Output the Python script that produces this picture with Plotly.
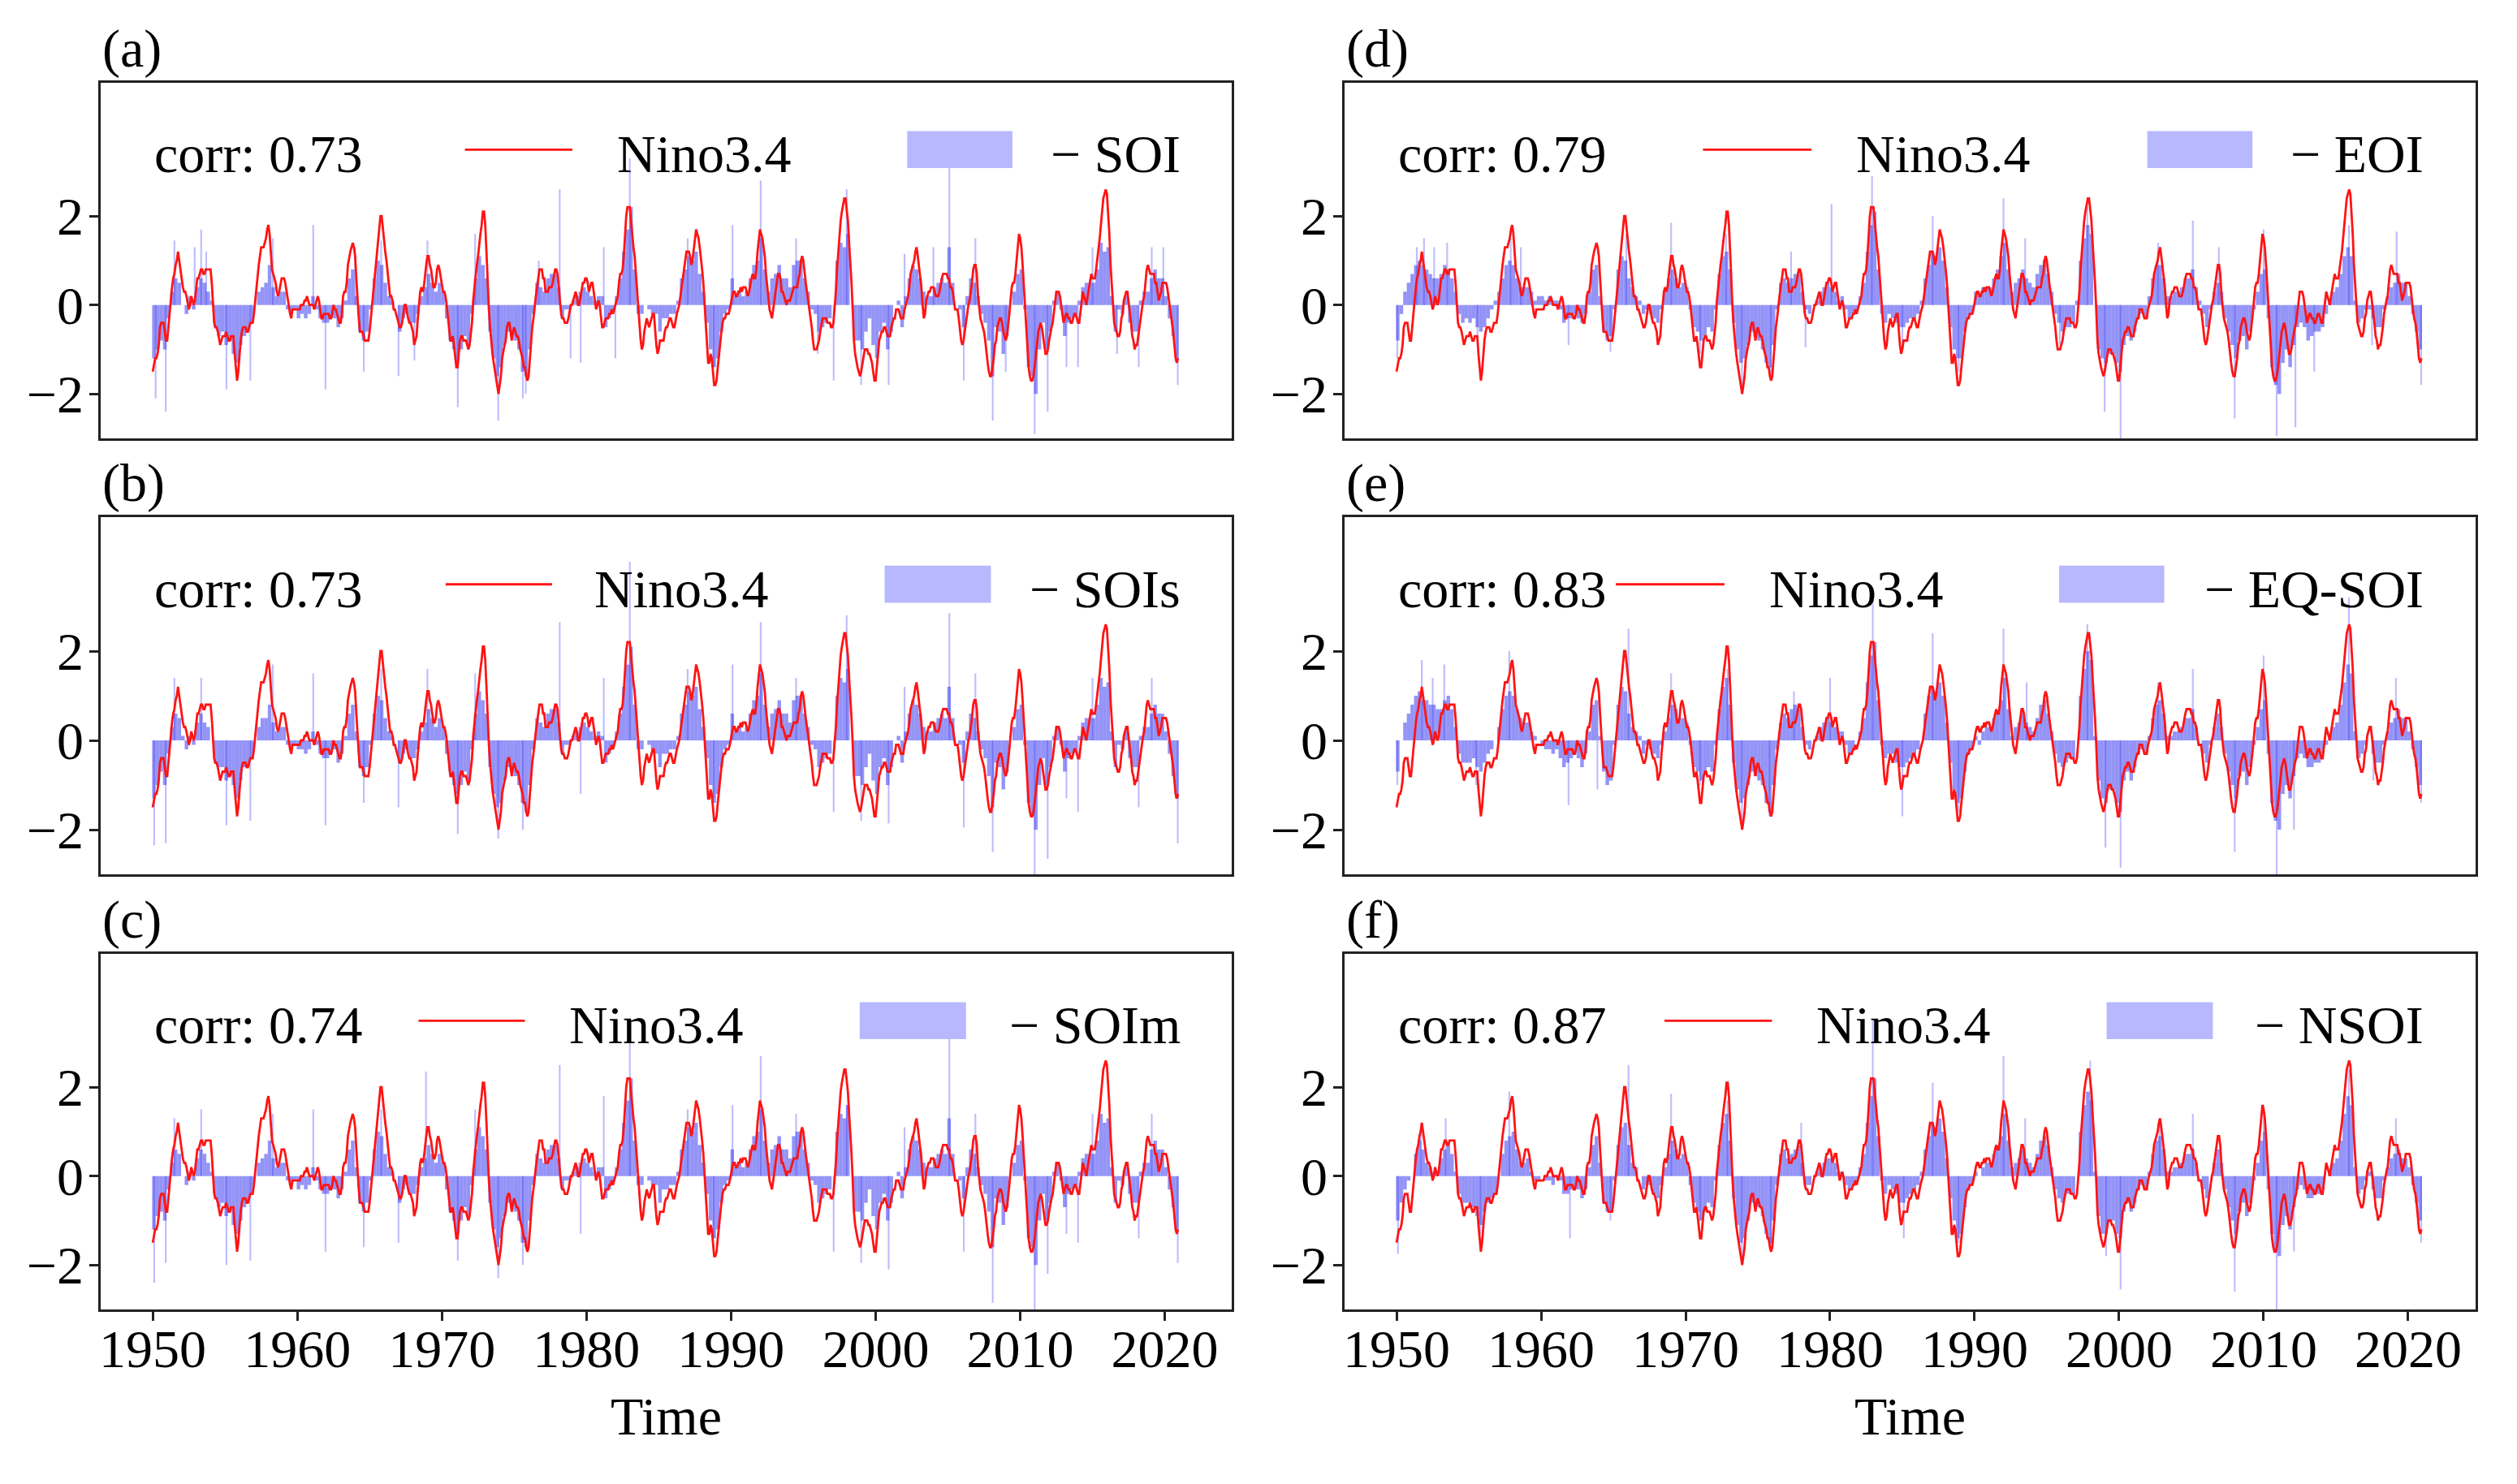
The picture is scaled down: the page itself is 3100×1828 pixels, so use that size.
import plotly.graph_objects as go

# ---------------- data ----------------
years = list(range(1950, 2021))
x_ticks = [1950, 1960, 1970, 1980, 1990, 2000, 2010, 2020]
y_ticks = [-2, 0, 2]
y_ticktext = ["\u22122", "0", "2"]

# Nino3.4 (monthly, 1950-2020)
nino34 = [
 -1.5,-1.3,-1.2,-1.2,-1.1,-0.9,-0.5,-0.4,-0.4,-0.4,-0.6,-0.8,
 -0.8,-0.5,-0.2,0.2,0.4,0.6,0.7,0.9,1.0,1.2,1.0,0.8,
 0.5,0.4,0.3,0.3,0.2,0.0,-0.1,0.0,0.2,0.1,0.0,0.1,
 0.4,0.6,0.6,0.7,0.8,0.8,0.7,0.7,0.8,0.8,0.8,0.8,
 0.8,0.5,0.0,-0.4,-0.5,-0.5,-0.6,-0.8,-0.9,-0.8,-0.7,-0.7,
 -0.7,-0.6,-0.7,-0.8,-0.8,-0.7,-0.7,-0.7,-1.1,-1.4,-1.7,-1.5,
 -1.1,-0.8,-0.6,-0.5,-0.5,-0.5,-0.6,-0.6,-0.5,-0.4,-0.4,-0.4,
 -0.2,0.1,0.4,0.7,0.9,1.1,1.3,1.3,1.3,1.4,1.5,1.7,
 1.8,1.6,1.2,0.8,0.7,0.6,0.5,0.3,0.2,0.3,0.5,0.6,
 0.6,0.6,0.5,0.3,0.2,-0.1,-0.2,-0.3,-0.1,-0.1,-0.1,-0.1,
 -0.1,-0.1,-0.1,0.0,0.0,0.0,0.1,0.1,0.2,0.1,0.0,0.0,
 0.0,0.0,-0.1,0.0,0.1,0.2,0.1,-0.1,-0.3,-0.3,-0.2,-0.2,
 -0.2,-0.2,-0.2,-0.3,-0.3,-0.2,0.0,-0.1,-0.1,-0.2,-0.3,-0.4,
 -0.4,-0.2,0.2,0.3,0.3,0.5,0.9,1.1,1.2,1.3,1.4,1.3,
 1.1,0.6,0.1,-0.3,-0.6,-0.6,-0.6,-0.7,-0.8,-0.8,-0.8,-0.8,
 -0.6,-0.3,-0.1,0.2,0.5,0.8,1.2,1.5,1.8,2.0,2.0,1.7,
 1.4,1.2,1.0,0.7,0.4,0.2,0.2,0.1,-0.1,-0.1,-0.2,-0.3,
 -0.4,-0.5,-0.5,-0.4,-0.2,0.0,0.0,-0.2,-0.3,-0.4,-0.4,-0.5,
 -0.6,-0.9,-0.8,-0.7,-0.3,0.0,0.3,0.4,0.3,0.4,0.7,0.9,
 1.1,1.1,0.9,0.8,0.6,0.4,0.4,0.5,0.8,0.9,0.8,0.6,
 0.5,0.3,0.3,0.2,0.0,-0.3,-0.6,-0.8,-0.8,-0.7,-0.9,-1.1,
 -1.4,-1.4,-1.1,-0.8,-0.7,-0.7,-0.8,-0.8,-0.8,-0.9,-1.0,-0.9,
 -0.7,-0.4,0.1,0.4,0.7,0.9,1.1,1.4,1.6,1.8,2.1,2.1,
 1.8,1.2,0.5,-0.1,-0.5,-0.9,-1.1,-1.3,-1.5,-1.7,-1.9,-2.0,
 -1.8,-1.6,-1.2,-1.0,-0.9,-0.8,-0.5,-0.4,-0.4,-0.6,-0.8,-0.6,
 -0.5,-0.6,-0.7,-0.7,-0.8,-1.0,-1.1,-1.2,-1.4,-1.4,-1.6,-1.7,
 -1.6,-1.2,-0.7,-0.5,-0.3,0.0,0.2,0.4,0.6,0.8,0.8,0.8,
 0.6,0.6,0.3,0.3,0.3,0.4,0.4,0.4,0.5,0.7,0.8,0.8,
 0.7,0.4,0.1,-0.2,-0.3,-0.3,-0.4,-0.4,-0.4,-0.3,-0.1,0.0,
 0.0,0.1,0.2,0.3,0.2,0.0,0.0,0.2,0.3,0.5,0.5,0.6,
 0.6,0.5,0.3,0.4,0.5,0.5,0.3,0.0,-0.1,0.0,0.1,0.0,
 -0.3,-0.5,-0.5,-0.4,-0.3,-0.3,-0.3,-0.2,-0.2,-0.1,-0.2,-0.1,
 0.0,0.1,0.2,0.5,0.7,0.7,0.8,1.1,1.6,2.0,2.2,2.2,
 2.2,1.9,1.5,1.3,1.1,0.7,0.3,-0.1,-0.5,-0.8,-1.0,-0.9,
 -0.6,-0.4,-0.3,-0.4,-0.5,-0.4,-0.3,-0.2,-0.2,-0.6,-0.9,-1.1,
 -1.0,-0.8,-0.8,-0.8,-0.8,-0.6,-0.5,-0.5,-0.4,-0.3,-0.3,-0.4,
 -0.5,-0.5,-0.3,-0.2,-0.1,0.0,0.2,0.4,0.7,0.9,1.1,1.2,
 1.2,1.2,1.1,0.9,1.0,1.2,1.5,1.7,1.6,1.5,1.3,1.1,
 0.8,0.5,0.1,-0.3,-0.9,-1.3,-1.3,-1.1,-1.2,-1.5,-1.8,-1.8,
 -1.7,-1.4,-1.1,-0.8,-0.6,-0.4,-0.3,-0.3,-0.2,-0.2,-0.2,-0.1,
 0.1,0.2,0.3,0.3,0.2,0.2,0.3,0.3,0.4,0.3,0.4,0.4,
 0.4,0.3,0.2,0.3,0.5,0.6,0.7,0.6,0.6,0.8,1.2,1.5,
 1.7,1.6,1.5,1.3,1.1,0.7,0.4,0.1,-0.1,-0.2,-0.3,-0.1,
 0.1,0.3,0.5,0.7,0.7,0.6,0.3,0.3,0.2,0.1,0.0,0.1,
 0.1,0.1,0.2,0.3,0.4,0.4,0.4,0.4,0.6,0.7,1.0,1.1,
 1.0,0.7,0.5,0.3,0.1,0.0,-0.2,-0.5,-0.8,-1.0,-1.0,-1.0,
 -0.9,-0.8,-0.6,-0.4,-0.3,-0.3,-0.3,-0.3,-0.4,-0.4,-0.4,-0.5,
 -0.5,-0.4,-0.1,0.3,0.8,1.2,1.6,1.9,2.1,2.3,2.4,2.4,
 2.2,1.9,1.4,1.0,0.5,-0.1,-0.8,-1.1,-1.3,-1.4,-1.5,-1.6,
 -1.5,-1.3,-1.1,-1.0,-1.0,-1.0,-1.1,-1.1,-1.2,-1.3,-1.5,-1.7,
 -1.7,-1.4,-1.1,-0.8,-0.7,-0.6,-0.6,-0.5,-0.5,-0.6,-0.7,-0.7,
 -0.7,-0.5,-0.4,-0.3,-0.3,-0.1,-0.1,-0.1,-0.2,-0.3,-0.3,-0.3,
 -0.1,0.0,0.1,0.2,0.4,0.7,0.8,0.9,1.0,1.2,1.3,1.1,
 0.9,0.6,0.4,0.0,-0.3,-0.2,0.1,0.2,0.3,0.3,0.4,0.4,
 0.4,0.3,0.2,0.2,0.2,0.3,0.5,0.6,0.7,0.7,0.7,0.7,
 0.6,0.6,0.4,0.4,0.3,0.1,-0.1,-0.1,-0.1,-0.3,-0.6,-0.8,
 -0.9,-0.8,-0.6,-0.4,-0.1,0.0,0.1,0.3,0.5,0.8,0.9,0.9,
 0.7,0.2,-0.1,-0.3,-0.4,-0.5,-0.6,-0.8,-1.1,-1.3,-1.5,-1.6,
 -1.6,-1.4,-1.2,-0.9,-0.8,-0.5,-0.4,-0.3,-0.3,-0.4,-0.6,-0.7,
 -0.8,-0.7,-0.5,-0.2,0.1,0.4,0.5,0.5,0.7,1.0,1.3,1.6,
 1.5,1.3,0.9,0.4,-0.1,-0.6,-1.0,-1.4,-1.6,-1.7,-1.7,-1.6,
 -1.4,-1.1,-0.8,-0.6,-0.5,-0.4,-0.5,-0.7,-0.9,-1.1,-1.1,-1.0,
 -0.8,-0.6,-0.5,-0.4,-0.2,0.1,0.3,0.3,0.3,0.2,0.0,-0.2,
 -0.4,-0.3,-0.2,-0.2,-0.3,-0.3,-0.4,-0.4,-0.3,-0.2,-0.2,-0.3,
 -0.4,-0.4,-0.2,0.1,0.3,0.2,0.1,0.0,0.2,0.4,0.6,0.7,
 0.6,0.6,0.6,0.8,1.0,1.2,1.5,1.8,2.1,2.4,2.5,2.6,
 2.5,2.1,1.6,0.9,0.4,-0.1,-0.4,-0.5,-0.6,-0.7,-0.7,-0.6,
 -0.3,-0.2,0.1,0.2,0.3,0.3,0.1,-0.1,-0.4,-0.7,-0.8,-1.0,
 -0.9,-0.9,-0.7,-0.5,-0.2,0.0,0.1,0.2,0.5,0.8,0.9,0.8,
 0.7,0.7,0.7,0.7,0.5,0.5,0.3,0.1,0.2,0.3,0.5,0.5,
 0.5,0.5,0.4,0.2,-0.1,-0.3,-0.4,-0.6,-0.9,-1.2,-1.3,-1.2,
]

# negative SOI-type indices (seasonal means JFM, AMJ, JAS, OND; 1950-2020)
neg_soi = [
 -1.2,-1.0,-0.8,-1.0, -0.3,0.3,0.6,0.5, 0.0,-0.2,0.2,-0.1, 0.4,0.6,0.5,0.3, 0.1,-0.5,-0.7,-0.6,
 -0.9,-0.8,-1.1,-1.3, -0.9,-0.7,-0.6,-0.4, 0.0,0.3,0.4,0.5, 0.9,0.4,0.2,0.3, 0.3,-0.1,-0.2,-0.1,
 -0.3,-0.2,-0.3,-0.2, 0.2,-0.1,-0.3,-0.4, -0.4,-0.3,-0.3,-0.5, -0.3,0.1,0.6,0.8, 0.2,-0.6,-0.8,-0.6,
 -0.1,0.6,1.0,0.9, 0.5,0.2,0.1,0.0, -0.6,-0.3,-0.2,-0.4, -0.4,-0.2,0.2,0.4, 0.7,0.5,0.3,0.5,
 0.3,-0.3,-0.8,-1.0, -1.3,-1.0,-0.7,-0.9, -0.2,0.6,1.1,0.9, 0.6,-0.6,-1.2,-1.6, -1.4,-0.9,-0.6,-0.7,
 -0.8,-1.0,-1.5,-1.6, -1.0,-0.2,0.5,0.4, 0.3,0.6,0.7,0.7, 0.4,-0.3,-0.1,-0.1, 0.1,0.2,0.3,0.4,
 0.3,0.2,0.1,0.2, 0.2,-0.5,-0.3,-0.1, 0.2,0.6,1.2,1.7, 2.2,0.8,-0.2,-0.2, 0.0,-0.1,-0.2,-0.2,
 -0.6,-0.3,-0.3,-0.2, -0.2,0.1,0.6,0.8, 1.1,1.0,1.2,0.7, 0.3,-0.4,-1.0,-1.4, -1.2,-0.6,-0.2,-0.1,
 0.6,0.2,0.3,0.2, 0.3,0.6,0.9,1.0, 1.5,0.8,0.3,0.6, 0.7,0.9,0.6,0.6, 0.4,0.9,1.0,1.0,
 0.6,0.3,-0.1,-0.2, -0.6,-0.5,-0.4,-0.3, 0.0,1.0,1.4,1.3, 1.6,0.0,-0.8,-0.8, -1.0,-0.6,-0.3,-0.9,
 -1.2,-0.6,-0.4,-1.0, -0.6,0.0,0.1,-0.5, 0.2,0.6,0.9,0.8, 0.6,0.3,0.2,0.2, 0.4,0.5,0.6,0.5,
 1.3,0.5,0.0,-0.1, -0.5,0.2,0.6,0.5, 0.2,-0.2,-0.4,-0.8, -1.6,-0.5,-0.6,-1.1, -0.7,0.0,0.3,0.7,
 0.8,-0.1,-1.4,-1.6, -2.0,-1.0,-0.4,-1.0, -0.6,0.1,0.3,-0.1, -0.7,-0.4,-0.3,-0.2, 0.1,0.4,0.5,0.5,
 0.5,0.8,1.4,1.2, 1.3,0.2,-0.6,-0.1, -0.2,0.2,-0.4,-0.6, -0.6,0.1,0.3,0.3, 0.6,0.8,0.6,0.6,
 0.2,-0.3,-0.7,-1.2,
]
neg_sois = [
 -1.3,-1.0,-0.7,-1.0, -0.3,0.3,0.6,0.5, 0.1,-0.2,0.1,-0.1, 0.4,0.6,0.4,0.3, 0.0,-0.5,-0.6,-0.6,
 -0.9,-0.8,-1.0,-1.3, -0.9,-0.6,-0.6,-0.4, 0.0,0.3,0.5,0.5, 0.8,0.4,0.2,0.3, 0.3,-0.1,-0.2,-0.1,
 -0.2,-0.2,-0.3,-0.2, 0.2,-0.1,-0.3,-0.4, -0.4,-0.3,-0.2,-0.5, -0.3,0.1,0.6,0.8, 0.2,-0.6,-0.8,-0.6,
 -0.1,0.6,1.0,0.9, 0.5,0.2,0.1,0.0, -0.5,-0.3,-0.2,-0.4, -0.4,-0.2,0.2,0.4, 0.7,0.5,0.3,0.5,
 0.3,-0.3,-0.7,-1.0, -1.2,-1.0,-0.7,-0.9, -0.2,0.6,1.1,0.9, 0.6,-0.6,-1.2,-1.5, -1.4,-0.9,-0.6,-0.7,
 -0.8,-1.0,-1.4,-1.6, -1.0,-0.2,0.5,0.4, 0.3,0.6,0.7,0.7, 0.4,-0.3,-0.1,-0.1, 0.1,0.2,0.3,0.4,
 0.3,0.2,0.1,0.2, 0.1,-0.5,-0.3,-0.1, 0.2,0.6,1.2,1.7, 2.1,0.8,-0.2,-0.2, 0.0,-0.1,-0.2,-0.3,
 -0.6,-0.3,-0.3,-0.2, -0.2,0.1,0.6,0.8, 1.1,1.0,1.2,0.7, 0.3,-0.4,-1.0,-1.4, -1.2,-0.6,-0.2,-0.1,
 0.6,0.2,0.3,0.2, 0.3,0.6,0.9,1.0, 1.5,0.8,0.3,0.6, 0.7,0.9,0.6,0.6, 0.4,0.9,1.0,1.0,
 0.6,0.3,-0.1,-0.2, -0.6,-0.5,-0.4,-0.3, 0.0,1.0,1.4,1.3, 1.6,0.0,-0.8,-0.8, -1.0,-0.6,-0.3,-0.9,
 -1.2,-0.6,-0.4,-1.0, -0.6,0.0,0.1,-0.5, 0.2,0.6,0.9,0.8, 0.6,0.3,0.2,0.2, 0.4,0.5,0.6,0.5,
 1.2,0.5,0.0,-0.1, -0.5,0.2,0.6,0.5, 0.2,-0.2,-0.4,-0.8, -1.5,-0.5,-0.6,-1.1, -0.7,0.0,0.3,0.7,
 0.8,-0.1,-1.4,-1.7, -2.0,-1.0,-0.4,-1.0, -0.6,0.1,0.3,-0.1, -0.7,-0.4,-0.3,-0.2, 0.1,0.4,0.5,0.5,
 0.5,0.8,1.4,1.2, 1.3,0.2,-0.6,-0.1, -0.2,0.2,-0.4,-0.6, -0.6,0.1,0.3,0.3, 0.6,0.8,0.6,0.6,
 0.2,-0.3,-0.8,-1.3,
]
neg_soim = [
 -1.2,-0.9,-0.8,-1.0, -0.3,0.3,0.6,0.5, 0.0,-0.2,0.1,-0.1, 0.4,0.6,0.5,0.3, 0.1,-0.5,-0.7,-0.6,
 -0.9,-0.8,-1.1,-1.3, -1.0,-0.7,-0.6,-0.4, 0.0,0.3,0.4,0.5, 0.8,0.4,0.2,0.3, 0.3,-0.1,-0.2,-0.1,
 -0.3,-0.2,-0.3,-0.2, 0.2,-0.1,-0.3,-0.4, -0.4,-0.3,-0.3,-0.5, -0.3,0.1,0.6,0.8, 0.2,-0.6,-0.8,-0.6,
 -0.1,0.6,1.0,0.9, 0.5,0.2,0.1,0.0, -0.6,-0.3,-0.2,-0.4, -0.4,-0.2,0.2,0.4, 0.7,0.5,0.3,0.5,
 0.3,-0.3,-0.8,-1.0, -1.3,-1.0,-0.7,-0.9, -0.2,0.6,1.1,0.9, 0.6,-0.6,-1.2,-1.6, -1.4,-0.9,-0.6,-0.7,
 -0.8,-1.0,-1.5,-1.6, -1.0,-0.2,0.5,0.4, 0.3,0.6,0.7,0.7, 0.4,-0.3,-0.1,-0.1, 0.1,0.2,0.3,0.4,
 0.3,0.2,0.1,0.2, 0.2,-0.5,-0.3,-0.1, 0.2,0.6,1.2,1.7, 2.2,0.8,-0.2,-0.2, 0.0,-0.1,-0.2,-0.2,
 -0.6,-0.3,-0.3,-0.2, -0.2,0.1,0.6,0.8, 1.1,1.0,1.2,0.7, 0.3,-0.4,-1.0,-1.4, -1.2,-0.6,-0.2,-0.1,
 0.6,0.2,0.3,0.2, 0.3,0.6,0.9,1.0, 1.5,0.8,0.3,0.6, 0.7,0.9,0.6,0.6, 0.4,0.9,1.0,1.0,
 0.6,0.3,-0.1,-0.2, -0.6,-0.5,-0.4,-0.3, 0.0,1.0,1.4,1.3, 1.6,0.0,-0.8,-0.8, -1.0,-0.6,-0.3,-0.9,
 -1.2,-0.6,-0.4,-1.0, -0.6,0.0,0.1,-0.5, 0.2,0.6,0.9,0.8, 0.6,0.3,0.2,0.2, 0.4,0.5,0.6,0.5,
 1.3,0.5,0.0,-0.1, -0.5,0.2,0.6,0.5, 0.2,-0.2,-0.4,-0.8, -1.6,-0.5,-0.6,-1.1, -0.7,0.0,0.3,0.7,
 0.8,-0.1,-1.4,-1.6, -2.0,-1.0,-0.4,-1.0, -0.6,0.1,0.3,-0.1, -0.7,-0.4,-0.3,-0.2, 0.1,0.4,0.5,0.5,
 0.5,0.8,1.4,1.2, 1.3,0.2,-0.6,-0.1, -0.2,0.2,-0.4,-0.6, -0.6,0.1,0.3,0.3, 0.6,0.8,0.6,0.6,
 0.2,-0.3,-0.7,-1.2,
]
neg_eoi = [
 -0.8,-0.2,0.3,0.5, 0.7,0.9,1.0,0.9, 0.8,0.7,0.6,0.6, 0.7,0.9,0.8,0.6, 0.3,-0.2,-0.4,-0.3,
 -0.4,-0.3,-0.5,-0.6, -0.5,-0.3,-0.1,0.1, 0.3,0.6,0.9,1.0, 0.9,0.6,0.4,0.4, 0.4,0.3,0.1,0.2,
 0.2,0.1,0.2,0.1, 0.1,-0.1,-0.4,-0.3, -0.3,-0.2,-0.3,-0.4, -0.2,0.3,0.8,0.9, 0.2,-0.6,-0.8,-0.7,
 -0.1,0.8,1.1,1.0, 0.6,0.4,0.2,0.1, -0.2,-0.1,-0.2,-0.3, -0.4,-0.1,0.3,0.6, 0.8,0.6,0.4,0.5,
 0.4,-0.1,-0.5,-0.6, -0.8,-0.7,-0.5,-0.6, -0.1,0.7,1.1,1.2, 0.8,-0.4,-1.0,-1.3, -1.2,-0.9,-0.6,-0.7,
 -0.8,-1.0,-1.3,-1.4, -0.9,-0.1,0.5,0.6, 0.5,0.6,0.7,0.7, 0.3,-0.1,-0.2,0.0, 0.1,0.3,0.4,0.5,
 0.4,0.3,0.1,0.2, -0.1,-0.3,-0.2,-0.1, 0.2,0.5,1.2,1.8, 2.1,0.8,-0.2,-0.4, -0.2,-0.3,-0.4,-0.5,
 -0.5,-0.4,-0.3,-0.3, -0.2,0.1,0.6,0.9, 1.2,1.1,1.3,1.0, 0.4,-0.5,-1.0,-1.2, -1.2,-0.6,-0.3,-0.2,
 0.3,0.2,0.4,0.4, 0.4,0.6,0.8,1.1, 1.4,0.8,0.3,0.5, 0.6,0.8,0.6,0.5, 0.4,0.7,0.9,1.0,
 0.7,0.3,-0.2,-0.4, -0.6,-0.5,-0.5,-0.4, 0.1,1.0,1.5,1.8, 1.6,0.0,-1.0,-1.2, -1.3,-1.1,-1.1,-1.3,
 -1.5,-0.9,-0.7,-0.8, -0.6,-0.3,-0.2,-0.3, 0.2,0.6,0.9,0.9, 0.6,0.2,0.2,0.3, 0.3,0.4,0.6,0.6,
 0.8,0.4,0.1,-0.2, -0.5,-0.1,0.3,0.5, 0.3,-0.3,-0.6,-0.9, -1.2,-0.8,-0.7,-1.0, -0.6,-0.1,0.3,0.7,
 0.8,-0.3,-1.4,-1.8, -2.0,-1.3,-1.0,-1.4, -0.9,-0.5,-0.4,-0.5, -0.8,-0.7,-0.6,-0.6, -0.5,-0.2,0.1,0.3,
 0.4,0.7,1.1,1.3, 1.1,0.1,-0.4,-0.3, -0.1,-0.1,-0.3,-0.5, -0.5,-0.1,0.2,0.4, 0.5,0.7,0.5,0.5,
 0.2,-0.2,-0.6,-1.0,
]
neg_eqsoi = [
 -0.7,0.0,0.4,0.6, 0.8,1.0,1.1,0.9, 0.9,0.8,0.8,0.7, 0.7,0.9,1.0,0.7, 0.3,-0.3,-0.5,-0.5,
 -0.5,-0.4,-0.6,-0.7, -0.5,-0.3,-0.2,0.0, 0.3,0.7,1.0,1.1, 1.0,0.7,0.5,0.4, 0.4,0.2,0.1,0.0,
 -0.1,-0.2,-0.2,-0.3, -0.2,-0.4,-0.6,-0.5, -0.4,-0.3,-0.4,-0.6, -0.3,0.2,0.8,0.9, 0.1,-0.7,-1.0,-0.9,
 -0.1,0.8,1.2,1.1, 0.6,0.3,0.2,0.1, -0.3,-0.1,-0.2,-0.3, -0.4,-0.1,0.2,0.5, 0.8,0.7,0.5,0.5,
 0.4,-0.1,-0.6,-0.7, -0.9,-0.7,-0.6,-0.7, -0.1,0.7,1.2,1.4, 0.8,-0.5,-1.1,-1.4, -1.3,-1.0,-0.7,-0.8,
 -0.9,-1.0,-1.4,-1.6, -1.0,-0.2,0.4,0.6, 0.5,0.7,0.8,0.7, 0.3,-0.1,-0.2,0.0, 0.1,0.3,0.4,0.5,
 0.4,0.3,0.2,0.2, -0.1,-0.3,-0.2,0.0, 0.2,0.5,1.3,1.9, 2.2,0.9,-0.1,-0.4, -0.3,-0.3,-0.5,-0.6,
 -0.6,-0.5,-0.4,-0.3, -0.2,0.0,0.6,1.0, 1.2,1.1,1.3,1.0, 0.4,-0.5,-1.1,-1.4, -1.3,-0.7,-0.3,-0.2,
 0.1,-0.1,0.2,0.3, 0.3,0.5,0.6,0.9, 1.4,0.7,0.1,0.3, 0.4,0.6,0.4,0.3, 0.2,0.5,0.8,0.9,
 0.6,0.2,-0.3,-0.5, -0.6,-0.5,-0.4,-0.4, 0.0,1.0,1.6,2.0, 1.8,0.1,-0.9,-1.3, -1.4,-1.1,-1.1,-1.4,
 -1.6,-0.9,-0.7,-0.9, -0.6,-0.3,-0.2,-0.3, 0.1,0.5,0.8,0.9, 0.6,0.1,0.1,0.2, 0.2,0.3,0.5,0.5,
 0.7,0.3,0.0,-0.3, -0.5,-0.1,0.3,0.6, 0.3,-0.3,-0.7,-1.0, -1.3,-0.8,-0.7,-1.0, -0.6,-0.1,0.3,0.7,
 0.9,-0.3,-1.4,-1.8, -2.0,-1.2,-1.0,-1.3, -0.8,-0.4,-0.3,-0.4, -0.6,-0.6,-0.5,-0.5, -0.3,-0.1,0.1,0.3,
 0.4,0.8,1.3,1.7, 1.5,0.2,-0.4,-0.3, -0.1,0.0,-0.3,-0.5, -0.5,-0.1,0.2,0.4, 0.5,0.7,0.5,0.5,
 0.2,-0.2,-0.6,-1.0,
]
neg_nsoi = [
 -1.0,-0.6,-0.3,-0.1, 0.0,0.5,0.8,0.6, 0.3,0.2,0.1,0.1, 0.4,0.6,0.7,0.5, 0.1,-0.4,-0.6,-0.6,
 -0.6,-0.7,-0.9,-1.1, -0.8,-0.6,-0.5,-0.4, 0.0,0.5,0.8,0.9, 1.0,0.6,0.3,0.3, 0.4,0.1,-0.1,-0.1,
 0.0,-0.1,-0.1,-0.2, 0.0,-0.1,-0.4,-0.4, -0.3,-0.3,-0.3,-0.5, -0.3,0.2,0.7,0.9, 0.3,-0.6,-0.8,-0.8,
 -0.1,0.7,1.1,1.2, 0.7,0.3,0.2,0.0, -0.3,-0.2,-0.2,-0.4, -0.5,-0.2,0.2,0.5, 0.8,0.6,0.4,0.5,
 0.3,-0.2,-0.6,-0.8, -1.0,-0.8,-0.6,-0.7, -0.1,0.7,1.2,1.4, 0.8,-0.5,-1.1,-1.5, -1.4,-1.0,-0.6,-0.7,
 -0.7,-0.9,-1.3,-1.5, -1.0,-0.2,0.5,0.6, 0.4,0.5,0.6,0.7, 0.3,-0.2,-0.2,0.0, 0.1,0.2,0.3,0.4,
 0.4,0.3,0.1,0.1, -0.2,-0.3,-0.2,-0.1, 0.2,0.5,1.2,1.8, 2.2,0.9,-0.1,-0.4, -0.2,-0.3,-0.4,-0.6,
 -0.6,-0.5,-0.4,-0.3, -0.2,0.1,0.6,0.9, 1.2,1.1,1.3,1.0, 0.4,-0.5,-1.0,-1.4, -1.3,-0.7,-0.3,-0.2,
 0.1,0.0,0.2,0.3, 0.3,0.5,0.6,0.9, 1.4,0.8,0.2,0.3, 0.4,0.6,0.4,0.3, 0.2,0.5,0.8,0.9,
 0.7,0.2,-0.3,-0.5, -0.6,-0.4,-0.4,-0.4, 0.0,1.0,1.6,1.9, 1.7,0.1,-0.9,-1.3, -1.3,-1.0,-1.0,-1.3,
 -1.4,-0.8,-0.6,-0.8, -0.6,-0.3,-0.2,-0.3, 0.1,0.5,0.8,0.9, 0.6,0.1,0.1,0.2, 0.2,0.3,0.5,0.5,
 0.6,0.3,0.0,-0.3, -0.5,0.0,0.3,0.6, 0.3,-0.3,-0.7,-1.0, -1.3,-0.8,-0.6,-0.9, -0.6,-0.1,0.3,0.8,
 1.0,-0.3,-1.3,-1.7, -1.8,-1.1,-0.9,-1.2, -0.7,-0.3,-0.2,-0.3, -0.5,-0.5,-0.4,-0.4, -0.3,0.0,0.1,0.3,
 0.4,0.8,1.4,1.8, 1.6,0.2,-0.4,-0.3, -0.1,0.1,-0.3,-0.5, -0.5,-0.1,0.2,0.4, 0.5,0.6,0.4,0.4,
 0.2,-0.2,-0.6,-1.0,
]

# prominent single-month extremes of each index (time in years, value)
soi_spike_t = [1950.2,1950.9,1951.5,1952.9,1953.35,1953.7,1955.1,1956.75,1958.3,1961.1,1961.95,1964.0,1964.6,
               1965.8,1967.0,1968.1,1969.0,1971.1,1972.3,1973.9,1975.6,1975.8,1976.7,1978.15,1978.9,1979.6,
               1981.2,1982.0,1983.0,1987.0,1988.8,1990.1,1992.05,1994.5,1996.0,1997.1,1998.0,1999.0,2000.9,
               2002.0,2004.0,2005.1,2006.1,2006.9,2008.1,2009.0,2011.0,2011.9,2013.2,2014.0,2015.0,2016.7,
               2018.2,2019.1,2019.9,2020.9]
soi_spike_v = [-2.1,-2.4,1.45,1.3,1.7,1.2,-1.9,-1.7,1.5,1.8,-1.9,1.3,-1.5,
               1.45,-1.6,-1.25,1.45,-2.3,1.6,-2.6,-2.1,-2.0,1.0,2.6,-1.2,-1.3,
               1.3,-1.2,3.3,1.5,-1.4,1.8,2.8,1.5,-1.1,-1.7,2.6,-1.8,-1.8,
               1.15,1.3,3.1,-1.7,1.5,-2.6,-1.5,-2.9,-2.4,-1.4,-1.4,1.3,-1.1,
               -1.4,1.3,1.3,-1.8]
sois_spike_t = [1950.1,1950.9,1951.5,1953.35,1955.1,1956.75,1958.3,1961.1,1961.95,1964.6,1965.8,1967.0,1969.0,
                1971.1,1972.3,1973.9,1975.6,1978.15,1979.6,1981.2,1983.0,1987.0,1988.8,1990.1,1992.05,1994.5,
                1997.1,1998.0,1999.0,2000.9,2002.0,2005.1,2006.1,2006.9,2008.1,2011.0,2011.9,2013.2,2014.0,
                2015.0,2018.2,2019.1,2020.9]
sois_spike_v = [-2.35,-2.3,1.4,1.4,-1.9,-1.8,1.7,1.5,-1.9,-1.4,1.6,-1.5,1.6,
                -2.1,1.5,-2.2,-2.0,2.65,-1.2,1.4,4.0,1.6,-1.3,1.7,2.65,1.4,
                -1.6,2.8,-1.8,-1.86,1.2,2.85,-1.95,1.5,-2.5,-3.0,-2.65,-1.3,-1.6,
                1.4,-1.5,1.4,-2.3]
soim_spike_t = [1950.1,1950.9,1951.5,1953.35,1955.1,1956.75,1958.3,1961.1,1961.95,1964.6,1965.8,1967.0,1968.9,
                1971.1,1972.3,1973.9,1975.6,1978.15,1979.6,1981.2,1983.0,1987.0,1988.8,1990.1,1992.05,1994.5,
                1997.1,1998.0,1999.0,2000.9,2002.0,2005.1,2006.1,2006.9,2008.1,2011.0,2011.9,2013.2,2014.0,
                2015.0,2018.2,2019.1,2020.9]
soim_spike_v = [-2.4,-1.95,1.3,1.5,-2.0,-1.9,1.4,1.5,-1.7,-1.6,1.5,-1.5,2.35,
                -1.9,1.5,-2.3,-2.0,2.5,-1.3,1.8,3.55,1.5,-1.4,1.6,2.7,1.4,
                -1.7,1.6,-1.95,-2.1,1.1,3.1,-1.7,1.4,-2.85,-3.0,-2.2,-1.3,-1.5,
                1.4,-1.4,1.4,-1.95]
eoi_spike_t = [1950.05,1951.4,1951.9,1952.6,1953.5,1955.6,1957.9,1958.6,1961.9,1964.8,1965.9,1969.0,1971.0,
               1972.8,1973.9,1975.9,1977.3,1978.3,1980.1,1982.9,1985.0,1987.1,1988.9,1992.0,1993.5,1995.9,
               1997.8,1999.0,2000.1,2002.7,2005.1,2006.9,2008.0,2010.0,2010.9,2012.2,2013.5,2015.9,2017.5,
               2019.2,2020.9]
eoi_spike_v = [-1.2,1.3,1.5,1.3,1.4,-0.9,1.5,1.3,-0.9,-1.05,1.6,1.85,-1.1,
               1.6,-1.8,-1.6,1.2,-0.95,2.27,2.9,-1.0,2.0,-1.5,2.4,1.5,-0.9,
               2.2,-2.4,-3.0,1.4,1.9,1.3,-2.55,1.7,-2.95,-2.75,-1.5,1.8,-0.9,
               1.65,-1.8]
eqsoi_spike_t = [1950.05,1951.75,1952.5,1953.3,1955.5,1957.8,1961.9,1963.9,1966.05,1969.0,1971.0,1972.9,1973.9,
                 1975.8,1977.5,1980.0,1982.95,1985.0,1987.1,1988.9,1992.0,1993.6,1997.8,1999.05,2000.1,2002.7,
                 2005.1,2008.0,2010.0,2010.9,2012.1,2015.9,2017.6,2019.15,2020.9]
eqsoi_spike_v = [-1.0,1.8,1.4,1.7,-1.0,2.0,-1.45,-1.1,2.5,1.5,-1.0,1.6,-1.8,
                 -1.7,1.1,1.4,3.3,-1.7,2.4,-1.6,2.5,1.3,2.6,-2.4,-2.85,1.3,
                 1.6,-2.5,1.9,-3.0,-2.0,3.2,-0.9,1.4,-1.4]
nsoi_spike_t = [1950.1,1951.7,1953.4,1955.8,1957.8,1962.0,1964.8,1966.05,1969.0,1971.0,1972.9,1973.9,1975.9,
                1978.0,1982.95,1985.1,1987.1,1988.9,1992.0,1993.5,1998.0,1999.1,2000.1,2002.8,2005.1,2008.0,
                2010.0,2010.9,2012.1,2015.9,2019.15,2020.9]
nsoi_spike_v = [-1.75,1.2,1.3,-1.3,1.9,-1.4,-1.0,2.5,1.85,-1.0,1.7,-1.9,-1.6,
                1.2,3.5,-1.4,2.1,-1.5,2.7,1.3,2.6,-1.8,-2.55,1.3,1.4,-2.6,
                1.6,-3.0,-1.7,2.4,1.3,-1.5]

panel_labels = ["(a)", "(b)", "(c)", "(d)", "(e)", "(f)"]
corr_values = ["0.73", "0.73", "0.74", "0.79", "0.83", "0.87"]
index_names = ["\u2212 SOI", "\u2212 SOIs", "\u2212 SOIm", "\u2212 EOI", "\u2212 EQ-SOI", "\u2212 NSOI"]
bar_series = [neg_soi, neg_sois, neg_soim, neg_eoi, neg_eqsoi, neg_nsoi]
spike_series = [(soi_spike_t, soi_spike_v), (sois_spike_t, sois_spike_v), (soim_spike_t, soim_spike_v),
                (eoi_spike_t, eoi_spike_v), (eqsoi_spike_t, eqsoi_spike_v), (nsoi_spike_t, nsoi_spike_v)]

# ---------------- layout helpers ----------------
month_x = [y + m / 12 for y in years for m in range(12)]
season_x = [y + (3 * q + 1) / 12 for y in years for q in range(4)]

col_dom = [[0.0368, 0.4865], [0.5313, 0.9808]]
row_dom = [[0.7090, 0.9486], [0.4152, 0.6559], [0.1220, 0.3616]]
# legend geometry per panel (fractions of axes): handle x0,x1, nino text x, patch x0,x1
leg = [
    (0.322, 0.417, 0.455, 0.713, 0.806),
    (0.305, 0.399, 0.435, 0.693, 0.787),
    (0.281, 0.375, 0.413, 0.671, 0.765),
    (0.317, 0.413, 0.451, 0.710, 0.803),
    (0.240, 0.336, 0.374, 0.632, 0.725),
    (0.283, 0.378, 0.416, 0.674, 0.768),
]

FONT = "Liberation Serif"
FS = 66
BAR_COLOR = "rgba(60,60,240,0.55)"
SPIKE_COLOR = "rgba(90,90,255,0.40)"
LINE_COLOR = "#ff1414"
fig = go.Figure()
layout = dict(width=3100, height=1828, margin=dict(l=0, r=0, t=0, b=0),
              paper_bgcolor="white", plot_bgcolor="white", showlegend=False,
              barmode="overlay",
              font=dict(family=FONT, size=FS, color="black"))
annotations = []
shapes = []

for i in range(6):
    col = i // 3
    row = i % 3
    s = "" if i == 0 else str(i + 1)
    xa, ya = "x" + s, "y" + s
    bottom = row == 2
    layout["xaxis" + s] = dict(
        domain=col_dom[col], anchor=ya, range=[1946.4, 2024.64],
        tickvals=x_ticks, showticklabels=bottom, ticks="outside" if bottom else "",
        ticklen=11, tickwidth=2.5, tickcolor="#222", ticklabelstandoff=-22,
        showline=True, mirror=True, linecolor="#222", linewidth=2.5,
        showgrid=False, zeroline=False, tickfont=dict(family=FONT, size=FS))
    layout["yaxis" + s] = dict(
        domain=row_dom[row], anchor=xa, range=[-3, 5],
        tickvals=y_ticks, ticktext=y_ticktext, ticks="outside",
        ticklen=11, tickwidth=2.5, tickcolor="#222", ticklabelstandoff=-6,
        showline=True, mirror=True, linecolor="#222", linewidth=2.5,
        showgrid=False, zeroline=False, tickfont=dict(family=FONT, size=FS))

    st, sv = spike_series[i]
    fig.add_trace(go.Bar(x=st, y=sv, width=0.12, xaxis=xa, yaxis=ya,
                         marker=dict(color=SPIKE_COLOR, line=dict(width=0))))
    fig.add_trace(go.Bar(x=season_x, y=bar_series[i], width=0.25, xaxis=xa, yaxis=ya,
                         marker=dict(color=BAR_COLOR, line=dict(width=0))))
    fig.add_trace(go.Scatter(x=month_x, y=nino34, mode="lines", xaxis=xa, yaxis=ya,
                             line=dict(color=LINE_COLOR, width=2.8)))

    xr, yr = xa + " domain", ya + " domain"
    h0, h1, nx, p0, p1 = leg[i]
    annotations += [
        dict(text=panel_labels[i], xref=xr, yref=yr, x=0.0, y=1.096, xanchor="left",
             yanchor="middle", showarrow=False, font=dict(family=FONT, size=FS)),
        dict(text="corr: " + corr_values[i], xref=xr, yref=yr, x=0.046, y=0.80,
             xanchor="left", yanchor="middle", showarrow=False, font=dict(family=FONT, size=FS)),
        dict(text="Nino3.4", xref=xr, yref=yr, x=nx, y=0.80, xanchor="left",
             yanchor="middle", showarrow=False, font=dict(family=FONT, size=FS)),
        dict(text=index_names[i], xref=xr, yref=yr, x=0.956, y=0.80, xanchor="right",
             yanchor="middle", showarrow=False, font=dict(family=FONT, size=FS)),
    ]
    shapes += [
        dict(type="line", xref=xr, yref=yr, x0=h0, x1=h1, y0=0.812, y1=0.812,
             line=dict(color=LINE_COLOR, width=2.8)),
        dict(type="rect", xref=xr, yref=yr, x0=p0, x1=p1, y0=0.760, y1=0.864,
             fillcolor="#b8b8ff", line=dict(width=0)),
    ]
    if bottom:
        annotations.append(dict(text="Time", xref=xa + " domain", yref="paper", x=0.5, y=0.050,
                                xanchor="center", yanchor="middle", showarrow=False,
                                font=dict(family=FONT, size=FS)))

layout["annotations"] = annotations
layout["shapes"] = shapes
fig.update_layout(**layout)
fig.write_html("out.html")
